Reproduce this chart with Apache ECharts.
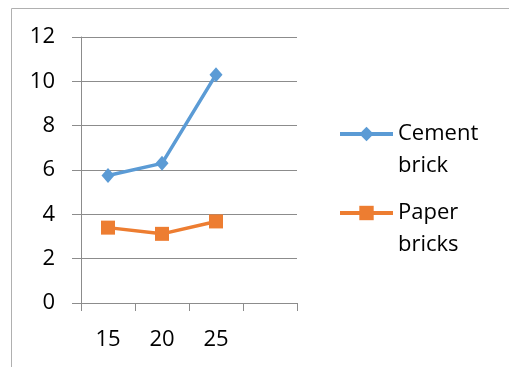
<!DOCTYPE html>
<html><head><meta charset="utf-8">
<script src="https://cdn.jsdelivr.net/npm/echarts@6/dist/echarts.min.js"></script>
<style>html,body{margin:0;padding:0;background:#fff}#c{width:509px;height:367px}</style>
</head><body><div id="c"></div>
<script>
const categories = ['15', '20', '25', ''];
const cementBrick = [5.75, 6.3, 10.3, null];
const paperBricks = [3.4, 3.12, 3.68, null];
const yTicks = { min: 0, max: 12, interval: 2 };

const chart = echarts.init(document.getElementById('c'));
const font = 'Open Sans, Noto Sans, sans-serif';
chart.setOption({
  animation: false,
  graphic: [{
    type: 'rect', shape: { x: 11.5, y: 8.5, width: 600, height: 500 },
    style: { fill: 'none', stroke: '#b0b0b0', lineWidth: 1 }, silent: true, z: -1
  }],
  grid: { left: 81, right: 212, top: 37, bottom: 64 },
  legend: {
    orient: 'vertical', left: 338, top: 86, padding: 0,
    itemWidth: 53, itemHeight: 18, itemGap: -17,
    data: ['Cement brick', 'Paper bricks'],
    lineStyle: { width: 4 },
    formatter: n => ' \n' + n.replace(' ', '\n'),
    textStyle: { fontFamily: font, fontSize: 22, color: '#000', lineHeight: 32 }
  },
  xAxis: {
    type: 'category', data: categories, boundaryGap: true,
    axisLine: { lineStyle: { color: '#8c8c8c', width: 1 } },
    axisTick: { show: true, length: 8, lineStyle: { color: '#8c8c8c' } },
    axisLabel: { fontFamily: font, fontSize: 22, color: '#000', margin: 26, interval: 0 },
    splitLine: { show: false }
  },
  yAxis: {
    type: 'value', min: yTicks.min, max: yTicks.max, interval: yTicks.interval,
    axisLine: { show: true, lineStyle: { color: '#8c8c8c', width: 1 } },
    axisTick: { show: true, length: 9, lineStyle: { color: '#8c8c8c' } },
    axisLabel: { fontFamily: font, fontSize: 22, color: '#000', margin: 26 },
    splitLine: { show: true, lineStyle: { color: '#8c8c8c', width: 1 } }
  },
  series: [
    { name: 'Cement brick', type: 'line', data: cementBrick, symbol: 'diamond', symbolSize: [13, 15],
      color: '#5b9bd5', lineStyle: { width: 3.5, color: '#5b9bd5' }, itemStyle: { color: '#5b9bd5' } },
    { name: 'Paper bricks', type: 'line', data: paperBricks, symbol: 'rect', symbolSize: 14,
      color: '#ed7d31', lineStyle: { width: 3.5, color: '#ed7d31' }, itemStyle: { color: '#ed7d31' } }
  ]
});
</script></body></html>
